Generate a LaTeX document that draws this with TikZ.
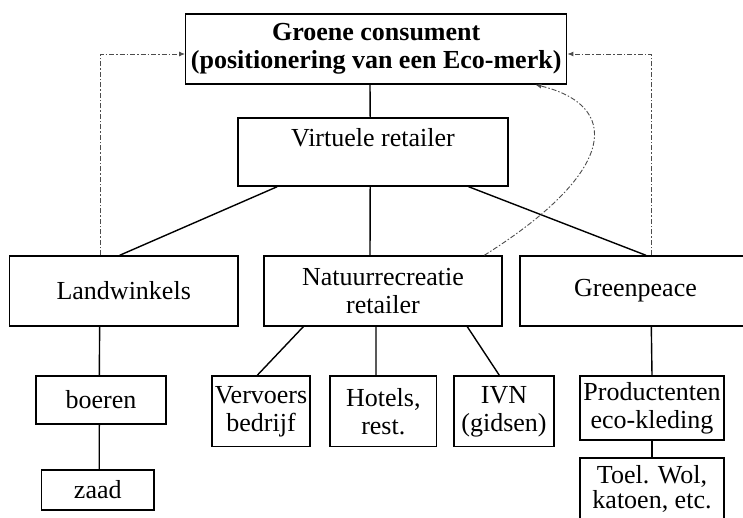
\documentclass[tikz,border=0pt]{standalone}
\usepackage{fontspec}
\setmainfont{Liberation Serif}
\usetikzlibrary{calc,arrows.meta}
\begin{document}
\begin{tikzpicture}[x=1pt,y=-1pt,
  box/.style={draw,line width=1.4pt,inner sep=0pt,align=center,
    font=\fontsize{26}{28}\selectfont},
  conn/.style={line width=1.4pt},
  fb/.style={line width=0.9pt,black!70,dash pattern=on 5pt off 2pt on 1.5pt off 2pt,
    -{Latex[length=6pt,width=5pt]}}]
\useasboundingbox (0,0) rectangle (743,517);
\node[box,minimum width=381,minimum height=70,font=\fontsize{26}{28}\selectfont\bfseries] (top) at (376.2,49) {Groene consument\\(positionering van een Eco-merk)};
\node[box,minimum width=270,minimum height=68] (virt) at (372.9,152) {Virtuele retailer\\[-8pt]\strut};
\node[box,minimum width=228.7,minimum height=70] (land) at (123.7,291) {Landwinkels};
\node[box,minimum width=238,minimum height=70] (nat) at (383,291) {Natuurrecreatie\\retailer};
\node[box,minimum width=231,minimum height=70] (gp) at (635.5,291) {Greenpeace};
\node[box,minimum width=130,minimum height=48] (boer) at (101,400) {boeren};
\node[box,minimum width=112.3,minimum height=40] (zaad) at (97.8,490) {zaad};
\node[box,minimum width=98,minimum height=70.7] (verv) at (261,411.3) {Vervoers\\bedrijf};
\node[box,minimum width=106.7,minimum height=70.7] (hot) at (383.3,411.3) {Hotels,\\rest.};
\node[box,minimum width=100,minimum height=70.7] (ivn) at (504,411.3) {IVN\\(gidsen)};
\node[box,minimum width=144,minimum height=64] (prod) at (652,408) {Productenten\\eco-kleding};
\node[box,minimum width=144,minimum height=62,font=\fontsize{26}{25}\selectfont] (toel) at (652,489) {Toel. Wol,\\katoen, etc.};
% solid connectors
\draw[conn] ($(top.south west)+(185,0)$) -- ($(virt.north west)+(133,0)$);
\draw[conn] ($(virt.south west)+(40,0)$) -- ($(land.north west)+(111,0)$);
\draw[conn] ($(virt.south west)+(133,0)$) -- ($(nat.north west)+(106.7,0)$);
\draw[conn] ($(virt.south east)+(-40,0)$) -- ($(gp.north west)+(126.7,0)$);
\draw[conn] ($(land.south west)+(91,0)$) -- ($(boer.north west)+(64,0)$);
\draw[conn] ($(boer.south west)+(64,0)$) -- ($(zaad.north west)+(58.3,0)$);
\draw[conn] ($(nat.south west)+(40,0)$) -- ($(verv.north west)+(46,0)$);
\draw[conn] ($(nat.south west)+(112.7,0)$) -- ($(hot.north west)+(46.7,0)$);
\draw[conn] ($(nat.south west)+(204,0)$) -- ($(ivn.north west)+(46,0)$);
\draw[conn] ($(gp.south west)+(132,0)$) -- (prod.north);
\draw[conn] (prod.south) -- (toel.north);
% dashed feedback arrows
\draw[fb] ($(land.north west)+(91.7,0)$) |- ($(top.west)+(0,5)$);
\draw[fb] ($(gp.north west)+(132,0)$) |- ($(top.east)+(0,5)$);
\draw[fb] ($(nat.north west)+(221,0)$) .. controls (620,170) and (620,105) .. ($(top.south east)+(-32,0)$);
\end{tikzpicture}
\end{document}
